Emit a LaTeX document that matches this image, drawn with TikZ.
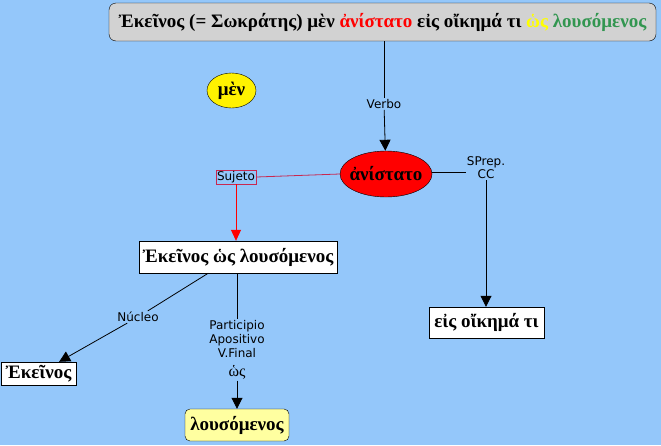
\documentclass[tikz,border=0pt]{standalone}
\usepackage{fontspec}
\setmainfont{Liberation Serif}
\setsansfont{DejaVu Sans}
\usetikzlibrary{arrows.meta,shapes.geometric,calc}
\definecolor{bg}{RGB}{148,199,250}
\definecolor{topgray}{RGB}{210,210,210}
\definecolor{greekgreen}{RGB}{50,150,80}
\definecolor{ylw}{RGB}{255,255,0}
\definecolor{paleylw}{RGB}{255,255,160}
\definecolor{crimsonline}{RGB}{200,40,80}
\tikzset{
  gk/.style={font=\fontsize{19}{21}\selectfont\bfseries},
  wbox/.style={draw=black, fill=white, inner sep=0pt, gk},
  lbl/.style={font=\sffamily\fontsize{12}{14}\selectfont, fill=bg, inner sep=1pt, align=center},
  conn/.style={draw=black, line width=0.8pt},
  arr/.style={conn, -{Triangle[length=11pt,width=11pt]}},
}
\begin{document}
\begin{tikzpicture}[x=1pt,y=-1pt]
\useasboundingbox[fill=bg] (0,0) rectangle (661,445);
% nodes
\node[draw=black, fill=topgray, rounded corners=7pt, minimum width=547pt, minimum height=38pt, inner sep=0pt, gk] (top) at (382.5,22)
  {Ἐκεῖνος (= Σωκράτης) μὲν \textcolor{red}{ἀνίστατο} εἰς οἴκημά τι \textcolor{ylw}{ὡς} \textcolor{greekgreen}{λουσόμενος}};
\node[ellipse, draw=black, fill=yellow, minimum width=49pt, minimum height=35pt, inner sep=0pt, gk] (men) at (231.5,90.5) {μὲν};
\node[ellipse, draw=black, fill=red, minimum width=92pt, minimum height=46pt, inner xsep=-4pt, inner ysep=0pt, gk] (ani) at (386,174) {ἀνίστατο};
\node[wbox, minimum width=198pt, minimum height=32pt] (ekws) at (238,257) {Ἐκεῖνος ὡς λουσόμενος};
\node[wbox, minimum width=115pt, minimum height=31pt] (eis) at (486.5,322.5) {εἰς οἴκημά τι};
\node[wbox, minimum width=75pt, minimum height=23pt] (ek) at (38.5,373.5) {Ἐκεῖνος};
\node[draw=black, fill=paleylw, rounded corners=5pt, minimum width=104pt, minimum height=32pt, inner sep=0pt, gk] (lous) at (237,425) {λουσόμενος};
% labels
\node[lbl] (verbo) at (384,104) {Verbo};
\node[lbl, draw=crimsonline, inner sep=1.2pt] (suj) at (236,177) {Sujeto};
\node[lbl] (sprep) at (486,168) {SPrep.\\[-1pt]CC};
\node[lbl] (nuc) at (138,317) {Núcleo};
\node[lbl] (part) at (237,350) {Participio\\Apositivo\\V.Final\\[5pt]{\rmfamily\fontsize{16}{16}\selectfont ὡς}};
% connectors
\draw[conn] (top.south -| verbo) -- (verbo);
\draw[arr] (verbo) -- (ani);
\draw[draw=crimsonline, line width=0.8pt] (ani.west) -- (suj.east);
\draw[draw=red, line width=0.8pt, -{Triangle[length=11pt,width=10pt]}] (suj) -- (suj |- ekws.north);
\draw[conn] (ani.east) ++(0,-2) coordinate (aniE) -- (aniE -| sprep.west);
\draw[arr] (sprep) -- (sprep |- eis.north);
\draw[conn] ($(ekws.south west)!0.35!(ekws.south east)$) -- (nuc);
\draw[arr] (nuc) -- (ek);
\draw[conn] (ekws.south -| part) -- (part);
\draw[arr] (part) -- (lous);
\end{tikzpicture}
\end{document}
